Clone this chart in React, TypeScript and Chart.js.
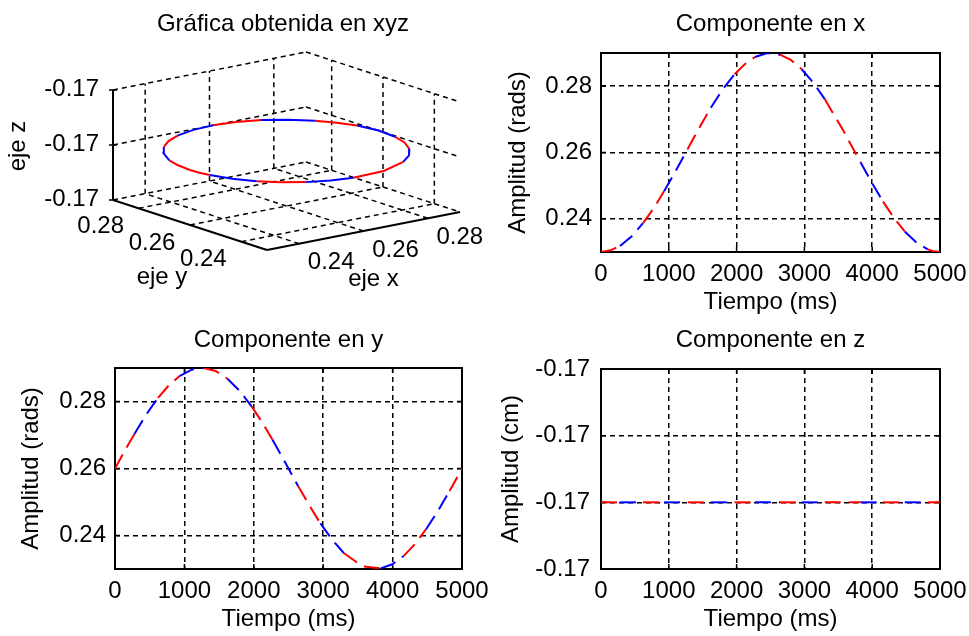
import React, { useEffect, useRef } from 'react';
import { Chart, registerables } from 'chart.js';

Chart.register(...registerables);

const FONT_FAMILY = "'Liberation Sans', Arial, Helvetica, sans-serif";
const TEXT = '#000000';
const font = { family: FONT_FAMILY, size: 24, lineHeight: 1, weight: 'normal' };

// Sample instants of the trajectory (ms)
const sampleTimes = [0, 140, 280, 450, 620, 775, 930, 1105, 1280, 1450, 1620, 1795, 1970, 2120, 2270, 2455,
  2640, 2800, 2960, 3130, 3300, 3565, 3830, 3995, 4160, 4320, 4480, 4650, 4820, 4910, 5000];

// Position components at each sample
const compX = [0.2300, 0.2305, 0.2318, 0.2347, 0.2387, 0.2431, 0.2483, 0.2546, 0.2611, 0.2675, 0.2735, 0.2790,
  0.2836, 0.2866, 0.2888, 0.2900, 0.2895, 0.2879, 0.2851, 0.2811, 0.2761, 0.2669, 0.2570, 0.2509, 0.2452, 0.2403,
  0.2362, 0.2329, 0.2308, 0.2302, 0.2300];
const compY = [0.2600, 0.2653, 0.2703, 0.2761, 0.2811, 0.2848, 0.2876, 0.2895, 0.2900, 0.2891, 0.2868, 0.2832,
  0.2785, 0.2738, 0.2686, 0.2617, 0.2547, 0.2490, 0.2436, 0.2387, 0.2347, 0.2308, 0.2302, 0.2314, 0.2339, 0.2374,
  0.2418, 0.2472, 0.2533, 0.2566, 0.2600];
const compZ = [-0.17, -0.17, -0.17, -0.17, -0.17, -0.17, -0.17, -0.17, -0.17, -0.17, -0.17, -0.17, -0.17, -0.17,
  -0.17, -0.17, -0.17, -0.17, -0.17, -0.17, -0.17, -0.17, -0.17, -0.17, -0.17, -0.17, -0.17, -0.17, -0.17, -0.17,
  -0.17];

// Start time of each plotted stroke; strokes alternate red / blue
const strokeStarts = [0, 280, 620, 930, 1280, 1620, 1970, 2270, 2640, 2960, 3300, 3830, 4160, 4480, 4820];
const strokeColors = ['#ff0000', '#0000ff'];

// Axis limits and ticks
const timeLimits = [0, 5000];
const timeTicks = [0, 1000, 2000, 3000, 4000, 5000];
const angleLimits = [0.23, 0.29];
const angleTicks = [0.24, 0.26, 0.28];
const heightLimits = [-0.1701, -0.1698];
const heightTicks = [-0.1701, -0.17, -0.1699, -0.1698];
const heightLimits3d = [-0.1701, -0.1699];
const heightTicks3d = [-0.1701, -0.17, -0.1699];

function strokeColor(t: number) {
  let k = 0;
  for (let i = 0; i < strokeStarts.length; i++) if (t >= strokeStarts[i]) k = i;
  return strokeColors[k % 2];
}

const GRID_DASH = [5, 4];
const GRID_WIDTH = 1.5;
const LINE_DASH = [16, 8];
const LINE_WIDTH = 2;

// Solid frame around the plot area with short inward tick marks
const framePlugin = {
  id: 'frame',
  beforeDatasetsDraw(chart: any) {
    const { ctx, chartArea: a, scales } = chart;
    ctx.save();
    ctx.setLineDash([]);
    ctx.strokeStyle = '#000';
    ctx.lineWidth = 2;
    ctx.strokeRect(a.left, a.top, a.right - a.left, a.bottom - a.top);
    const tl = 5;
    ctx.lineWidth = 1.5;
    ctx.beginPath();
    for (const t of scales.x.ticks) {
      const px = scales.x.getPixelForValue(t.value);
      ctx.moveTo(px, a.bottom); ctx.lineTo(px, a.bottom - tl);
      ctx.moveTo(px, a.top); ctx.lineTo(px, a.top + tl);
    }
    for (const t of scales.y.ticks) {
      const py = scales.y.getPixelForValue(t.value);
      ctx.moveTo(a.left, py); ctx.lineTo(a.left + tl, py);
      ctx.moveTo(a.right, py); ctx.lineTo(a.right - tl, py);
    }
    ctx.stroke();
    ctx.restore();
  },
};

const hideAtEdges = (c: any) => {
  if (!c.tick) return '#000';
  const v = c.tick.value;
  return Math.abs(v - c.scale.min) < 1e-12 || Math.abs(v - c.scale.max) < 1e-12 ? 'rgba(0,0,0,0)' : '#000';
};

type Area = { left: number; top: number; right: number; bottom: number };
type Spec = {
  left: number; top: number; height: number;
  title: string; yTitle: string; values: number[];
  yLimits: number[]; yTicks: number[];
  area: Area; titleMid: number; yTitleMid: number; yTickGap: number;
};

// room kept right of the plot area for the last time label
const RIGHT_ROOM = 42;

function ComponentPlot(p: Spec) {
  const ref = useRef<HTMLCanvasElement>(null);
  const width = p.area.right + RIGHT_ROOM;
  useEffect(() => {
    const a = p.area;
    const half = font.size / 2;
    const chart = new Chart(ref.current as HTMLCanvasElement, {
      type: 'line',
      data: {
        datasets: [{
          data: sampleTimes.map((t, i) => ({ x: t, y: p.values[i] })),
          borderColor: strokeColors[0],
          borderWidth: LINE_WIDTH,
          borderDash: LINE_DASH,
          borderCapStyle: 'butt',
          pointRadius: 0,
          tension: 0,
          fill: false,
          segment: { borderColor: (c: any) => strokeColor(sampleTimes[c.p0DataIndex]) },
        } as any],
      },
      options: {
        animation: false,
        responsive: false,
        events: [],
        layout: { padding: { left: 0, top: 0, right: RIGHT_ROOM, bottom: 0 } },
        plugins: {
          legend: { display: false },
          tooltip: { enabled: false },
          title: {
            display: true, text: p.title, color: TEXT, font, fullSize: false,
            padding: { top: p.titleMid - half, bottom: a.top - p.titleMid - half },
          },
        },
        scales: {
          x: {
            type: 'linear', min: timeLimits[0], max: timeLimits[1],
            afterBuildTicks: (s: any) => { s.ticks = timeTicks.map((v) => ({ value: v })); },
            afterFit: (s: any) => { s.height = p.height - a.bottom; },
            ticks: { color: TEXT, font, padding: 22 - half, maxRotation: 0, autoSkip: false, callback: (v: any) => String(v) },
            grid: { drawTicks: false, lineWidth: GRID_WIDTH, color: hideAtEdges },
            border: { display: false, dash: GRID_DASH },
            title: { display: true, text: 'Tiempo (ms)', color: TEXT, font, padding: { top: 0, bottom: p.height - a.bottom - 50 - half } },
          },
          y: {
            type: 'linear', min: p.yLimits[0], max: p.yLimits[1],
            afterBuildTicks: (s: any) => { s.ticks = p.yTicks.map((v) => ({ value: v })); },
            afterFit: (s: any) => { s.width = a.left; },
            ticks: { color: TEXT, font, padding: p.yTickGap, autoSkip: false, callback: (v: any) => Number(v).toFixed(2) },
            grid: { drawTicks: false, lineWidth: GRID_WIDTH, color: hideAtEdges },
            border: { display: false, dash: GRID_DASH },
            title: { display: true, text: p.yTitle, color: TEXT, font, padding: { top: p.yTitleMid - half, bottom: 0 } },
          },
        },
      } as any,
      plugins: [framePlugin],
    });
    return () => chart.destroy();
  }, []);
  return (
    <canvas ref={ref} width={width} height={p.height}
      style={{ position: 'absolute', left: p.left, top: p.top, width, height: p.height, display: 'block' }} />
  );
}

// Oblique view of the xyz box: screen origin of the (xmin, ymin, zmin) corner and unit edge vectors
const view = { ox: 267, oy: 250, ex: [193, -38], ey: [-154, -50], ez: [0, -110] };

function project(x: number, y: number, z: number) {
  const a = (x - angleLimits[0]) / (angleLimits[1] - angleLimits[0]);
  const b = (y - angleLimits[0]) / (angleLimits[1] - angleLimits[0]);
  const c = (z - heightLimits3d[0]) / (heightLimits3d[1] - heightLimits3d[0]);
  return {
    x: view.ox + a * view.ex[0] + b * view.ey[0] + c * view.ez[0],
    y: view.oy + a * view.ex[1] + b * view.ey[1] + c * view.ez[1],
  };
}

const labels3d = {
  id: 'labels3d',
  afterDraw(chart: any) {
    const { ctx, scales: { x: sx, y: sy } } = chart;
    const [a0, a1] = angleLimits;
    const z0 = heightLimits3d[0];
    const px = (p: { x: number; y: number }) => ({ x: sx.getPixelForValue(p.x), y: sy.getPixelForValue(p.y) });
    ctx.save();
    ctx.fillStyle = TEXT;
    ctx.font = `24px ${FONT_FAMILY}`;
    ctx.textBaseline = 'middle';
    ctx.textAlign = 'center';
    ctx.fillText('Gráfica obtenida en xyz', 283, 24);
    for (const xt of angleTicks) {
      const q = px(project(xt, a0, z0));
      ctx.fillText(xt.toFixed(2), q.x + 32, q.y + 19);
    }
    for (const yt of angleTicks) {
      const q = px(project(a0, yt, z0));
      ctx.fillText(yt.toFixed(2), q.x - 38, q.y + 18);
    }
    const qx = px(project((a0 + a1) / 2, a0, z0));
    ctx.fillText('eje x', qx.x + 10, qx.y + 48);
    const qy = px(project(a0, (a0 + a1) / 2, z0));
    ctx.fillText('eje y', qy.x - 28, qy.y + 52);
    ctx.textAlign = 'right';
    for (const zt of heightTicks3d) {
      const q = px(project(a0, a1, zt));
      ctx.fillText(zt.toFixed(2), q.x - 14, q.y - 1);
    }
    // small tick marks on the vertical axis
    ctx.strokeStyle = '#000';
    ctx.lineWidth = 1.5;
    ctx.beginPath();
    for (const zt of heightTicks3d) {
      const q = px(project(a0, a1, zt));
      ctx.moveTo(q.x - 4, q.y); ctx.lineTo(q.x + 4, q.y);
    }
    ctx.stroke();
    ctx.translate(18, 146);
    ctx.rotate(-Math.PI / 2);
    ctx.textAlign = 'center';
    ctx.fillText('eje z', 0, 0);
    ctx.restore();
  },
};

function Orbit3D() {
  const ref = useRef<HTMLCanvasElement>(null);
  useEffect(() => {
    const [a0, a1] = angleLimits;
    const [z0, z1] = heightLimits3d;
    const seg = (p: any, q: any, dashed: boolean, width = GRID_WIDTH) => ({
      data: [p, q], showLine: true, pointRadius: 0, borderColor: '#000', borderWidth: width,
      borderDash: dashed ? GRID_DASH : [],
    });
    const datasets: any[] = [];
    datasets.push({
      data: sampleTimes.map((_, i) => project(compX[i], compY[i], compZ[i])),
      showLine: true, pointRadius: 0, borderWidth: LINE_WIDTH, borderColor: strokeColors[0],
      segment: { borderColor: (c: any) => strokeColor(sampleTimes[c.p0DataIndex]) },
    });
    // axis lines
    datasets.push(seg(project(a0, a0, z0), project(a1, a0, z0), false, 2));
    datasets.push(seg(project(a0, a0, z0), project(a0, a1, z0), false, 2));
    datasets.push(seg(project(a0, a1, z0), project(a0, a1, z1), false, 2));
    // grid on floor and back walls
    for (const xt of angleTicks) {
      datasets.push(seg(project(xt, a0, z0), project(xt, a1, z0), true));
      datasets.push(seg(project(xt, a1, z0), project(xt, a1, z1), true));
    }
    for (const yt of angleTicks) {
      datasets.push(seg(project(a0, yt, z0), project(a1, yt, z0), true));
      datasets.push(seg(project(a1, yt, z0), project(a1, yt, z1), true));
    }
    for (const zt of heightTicks3d) {
      datasets.push(seg(project(a0, a1, zt), project(a1, a1, zt), true));
      datasets.push(seg(project(a1, a1, zt), project(a1, a0, zt), true));
    }
    const chart = new Chart(ref.current as HTMLCanvasElement, {
      type: 'scatter',
      data: { datasets },
      options: {
        animation: false,
        responsive: false,
        events: [],
        layout: { padding: 0 },
        plugins: { legend: { display: false }, tooltip: { enabled: false } },
        scales: {
          x: { type: 'linear', display: false, min: 0, max: 490 },
          y: { type: 'linear', display: false, min: 0, max: 318, reverse: true },
        },
      } as any,
      plugins: [labels3d],
    });
    return () => chart.destroy();
  }, []);
  return (
    <canvas ref={ref} width={490} height={318}
      style={{ position: 'absolute', left: 0, top: 0, width: 490, height: 318, display: 'block' }} />
  );
}

const specX: Spec = {
  left: 490, top: 0, height: 318,
  title: 'Componente en x', yTitle: 'Amplitud (rads)', values: compX,
  yLimits: angleLimits, yTicks: angleTicks,
  area: { left: 111, top: 53, right: 450, bottom: 252 }, titleMid: 24, yTitleMid: 28, yTickGap: 9,
};
const specY: Spec = {
  left: 0, top: 318, height: 318,
  title: 'Componente en y', yTitle: 'Amplitud (rads)', values: compY,
  yLimits: angleLimits, yTicks: angleTicks,
  area: { left: 115, top: 50, right: 462, bottom: 251 }, titleMid: 22, yTitleMid: 31, yTickGap: 9,
};
const specZ: Spec = {
  left: 490, top: 318, height: 318,
  title: 'Componente en z', yTitle: 'Amplitud (cm)', values: compZ,
  yLimits: heightLimits, yTicks: heightTicks,
  area: { left: 111, top: 51, right: 450, bottom: 251 }, titleMid: 22, yTitleMid: 21, yTickGap: 11,
};

export default function App() {
  return (
    <div style={{ position: 'absolute', left: 0, top: 0, width: 969, height: 636, background: '#ffffff', overflow: 'hidden' }}>
      <Orbit3D />
      <ComponentPlot {...specX} />
      <ComponentPlot {...specY} />
      <ComponentPlot {...specZ} />
    </div>
  );
}
